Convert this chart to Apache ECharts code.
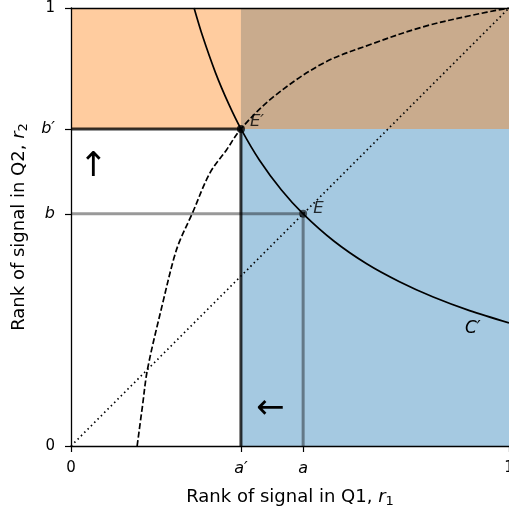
<!DOCTYPE html>
<html>
<head>
<meta charset="utf-8">
<script src="https://cdn.jsdelivr.net/npm/echarts@6/dist/echarts.min.js"></script>
<style>
  html, body { margin: 0; padding: 0; background: #fff; }
  #chart { width: 509px; height: 512px; }
</style>
</head>
<body>
<div id="chart"></div>
<script>
// Thresholds on each axis
const aPrime = 0.388, a = 0.530;
const bPrime = 0.724, b = 0.530;

// Tick positions and their labels
const xTicks = [0, aPrime, a, 1];
const xTickLabels = ['0', "a′", 'a', '1'];
const yTicks = [0, b, bPrime, 1];
const yTickLabels = ['0', 'b', "b′", '1'];

// Iso-curve C' (solid)
const curveC = [
  [0.281, 1.000], [0.300, 0.937], [0.330, 0.852], [0.360, 0.781],
  [0.388, 0.724], [0.430, 0.653], [0.480, 0.585], [0.530, 0.530],
  [0.600, 0.468], [0.675, 0.416], [0.750, 0.375], [0.827, 0.340],
  [0.910, 0.309], [1.000, 0.281]
];

// Dashed response curve
const curveDashed = [
  [0.151, 0.000], [0.163, 0.090], [0.175, 0.177], [0.211, 0.333],
  [0.235, 0.429], [0.249, 0.470], [0.276, 0.529], [0.317, 0.623],
  [0.355, 0.676], [0.388, 0.724], [0.462, 0.797], [0.576, 0.874],
  [0.690, 0.919], [0.804, 0.957], [0.918, 0.984], [1.000, 1.000]
];

// 45-degree reference line
const diagonal = [[0, 0], [1, 1]];

// Equilibrium points
const pointEPrime = [aPrime, bPrime];
const pointE = [a, b];

const italicLabels = new Set(["a′", 'a', 'b', "b′"]);
function tickFormatter(ticks, labels) {
  return function (v) {
    let idx = -1;
    for (let i = 0; i < ticks.length; i++) {
      if (Math.abs(ticks[i] - v) < 1e-6) { idx = i; }
    }
    if (idx < 0) return '';
    const s = labels[idx];
    return italicLabels.has(s) ? '{i|' + s + '}' : '{n|' + s + '}';
  };
}

const FONT = 'DejaVu Sans';
const TICK_SIZE = 15;
const NAME_SIZE = 18;
const labelRich = {
  n: { fontFamily: FONT, fontSize: TICK_SIZE, color: '#000' },
  i: { fontFamily: FONT, fontStyle: 'italic', fontSize: 16, color: '#000' }
};
const nameRich = {
  t: { fontFamily: FONT, fontSize: NAME_SIZE, color: '#000' },
  i: { fontFamily: FONT, fontStyle: 'italic', fontSize: NAME_SIZE, color: '#000' },
  s: { fontFamily: FONT, fontSize: 13, color: '#000', padding: [9, 0, 0, 0] }
};

const chart = echarts.init(document.getElementById('chart'), null, { renderer: 'canvas' });

const option = {
  animation: false,
  backgroundColor: '#fff',
  grid: { left: 71, top: 8, width: 438, height: 438, outerBoundsMode: 'none', containLabel: false },
  xAxis: [
    {
      type: 'value', min: 0, max: 1, z: 10,
      axisLine: { show: true, onZero: false, lineStyle: { color: '#000', width: 1.3 } },
      axisTick: { show: true, customValues: xTicks, length: 6, lineStyle: { color: '#000', width: 1.2 } },
      axisLabel: {
        customValues: xTicks, formatter: tickFormatter(xTicks, xTickLabels),
        fontFamily: FONT, fontSize: TICK_SIZE, color: '#000', margin: 15, rich: labelRich,
        showMinLabel: true, showMaxLabel: true, hideOverlap: false
      },
      splitLine: { show: false },
      name: '{t|Rank of signal in Q1, }{i|r}{s|1}',
      nameLocation: 'middle', nameGap: 40,
      nameTextStyle: { fontFamily: FONT, fontSize: NAME_SIZE, color: '#000', rich: nameRich }
    },
    {
      type: 'value', min: 0, max: 1, position: 'top', z: 10,
      axisLine: { show: true, onZero: false, lineStyle: { color: '#000', width: 1.3 } },
      axisTick: { show: false }, axisLabel: { show: false }, splitLine: { show: false }
    }
  ],
  yAxis: [
    {
      type: 'value', min: 0, max: 1, z: 10,
      axisLine: { show: true, onZero: false, lineStyle: { color: '#000', width: 1.3 } },
      axisTick: { show: true, customValues: yTicks, length: 6, lineStyle: { color: '#000', width: 1.2 } },
      axisLabel: {
        customValues: yTicks, formatter: tickFormatter(yTicks, yTickLabels),
        fontFamily: FONT, fontSize: TICK_SIZE, color: '#000', margin: 16, rich: labelRich,
        showMinLabel: true, showMaxLabel: true, hideOverlap: false
      },
      splitLine: { show: false },
      name: '{t|Rank of signal in Q2, }{i|r}{s|2}',
      nameLocation: 'middle', nameGap: 41, nameRotate: 90,
      nameTextStyle: { fontFamily: FONT, fontSize: NAME_SIZE, color: '#000', rich: nameRich }
    }
  ],
  series: [
    {
      // shaded regions: r1 above a' (blue), r2 above b' (orange)
      type: 'line', data: [], z: 1,
      markArea: {
        silent: true,
        data: [
          [{ coord: [aPrime, 0], itemStyle: { color: 'rgba(31,119,180,0.4)' } }, { coord: [1, 1] }],
          [{ coord: [0, bPrime], itemStyle: { color: 'rgba(255,127,14,0.4)' } }, { coord: [1, 1] }]
        ]
      }
    },
    {
      type: 'line', z: 3, showSymbol: false, silent: true,
      data: [[0, b], [a, b], [a, 0]],
      lineStyle: { color: 'rgba(0,0,0,0.4)', width: 3 }
    },
    {
      type: 'line', z: 3, showSymbol: false, silent: true,
      data: [[0, bPrime], [aPrime, bPrime], [aPrime, 0]],
      lineStyle: { color: 'rgba(0,0,0,0.8)', width: 3 }
    },
    {
      type: 'line', z: 4, showSymbol: false, silent: true,
      data: diagonal,
      lineStyle: { color: '#000', width: 1.7, type: [1.5, 3.2] }
    },
    {
      type: 'line', z: 4, showSymbol: false, silent: true, smooth: 0.35,
      data: curveDashed,
      lineStyle: { color: '#000', width: 1.7, type: [6, 2.6] }
    },
    {
      type: 'line', z: 4, showSymbol: false, silent: true, smooth: 0.3,
      data: curveC,
      lineStyle: { color: '#000', width: 1.7 }
    },
    {
      type: 'scatter', z: 6, symbolSize: 8, silent: true,
      data: [
        { value: pointEPrime, itemStyle: { color: '#000' },
          label: { show: true, formatter: "E′", position: 'right', offset: [1, -7] } },
        { value: pointE, itemStyle: { color: 'rgba(0,0,0,0.75)' },
          label: { show: true, formatter: 'E', position: 'right', offset: [2, -5] } }
      ],
      label: { fontFamily: FONT, fontStyle: 'italic', fontSize: 16.5, color: '#000', distance: 4 }
    }
  ],
  graphic: [
    { type: 'text', left: 79, top: 150, z: 20,
      style: { text: '↑', fontFamily: FONT, fontSize: 34, fill: '#000' } },
    { type: 'text', left: 256, top: 392, z: 20,
      style: { text: '←', fontFamily: FONT, fontSize: 34, fill: '#000' } },
    { type: 'text', left: 465, top: 320, z: 20,
      style: { text: "C′", fontFamily: FONT, fontStyle: 'italic', fontSize: 17, fill: '#000' } }
  ]
};

chart.setOption(option);
</script>
</body>
</html>
